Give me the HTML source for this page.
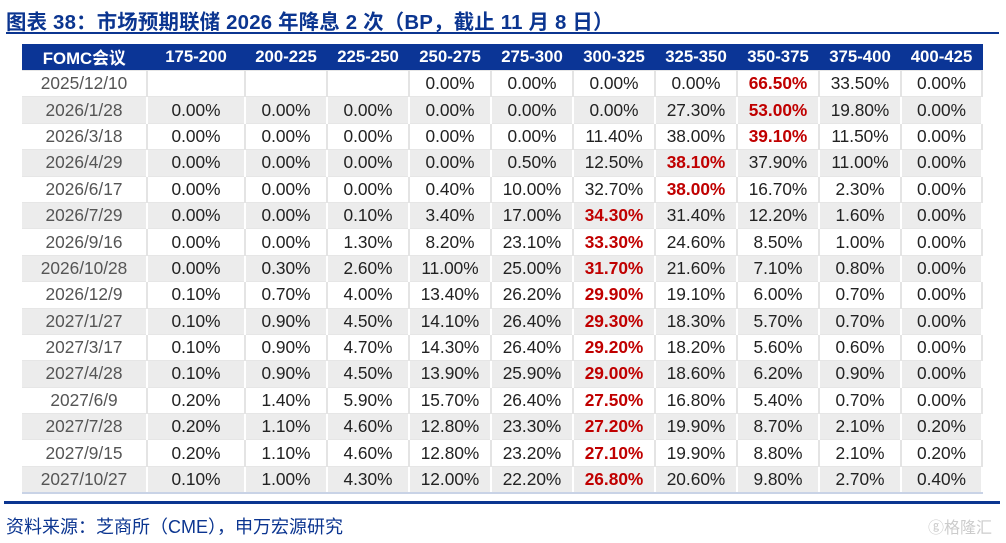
<!DOCTYPE html>
<html><head><meta charset="utf-8"><style>
body{margin:0;width:1006px;height:543px;background:#fff;position:relative;overflow:hidden;font-family:"Liberation Sans","Noto Sans CJK SC",sans-serif}
#title{position:absolute;left:6px;top:5px;font-size:20.4px;font-weight:bold;color:#0b3590;white-space:nowrap;letter-spacing:0.2px}
#rule1{position:absolute;left:6px;top:32px;width:993px;height:2px;background:#0b3590}
table{position:absolute;left:22px;top:44px;border-collapse:collapse;table-layout:fixed;width:960px}
th{background:#0b3596;color:#fff;font-size:16.8px;font-weight:bold;height:26px;padding:0;border-right:1px solid #0b3596}
td{height:25.4px;padding:0;text-align:center;font-size:17.3px;color:#222;border-right:2px solid #e4e4e4;border-top:1px solid #e6e6e6}
tr:nth-child(even) td{background:#ececec;border-right:2px solid #fff}
td:first-child{color:#555}
td.r{color:#c00000;font-weight:bold}
tbody tr:last-child td{border-bottom:2px solid #c9d3e6}
#rule2{position:absolute;left:4px;top:501px;width:996px;height:3px;background:#0b3590}
#src{position:absolute;left:6px;top:513px;font-size:18px;color:#0b3590}
#wm{position:absolute;left:928px;top:514px;font-size:16px;color:#ccc}
</style></head><body>
<div id="title">图表 38：市场预期联储 2026 年降息 2 次（BP，截止 11 月 8 日）</div>
<div id="rule1"></div>
<table id="tbl">
<colgroup><col style="width:125px"><col style="width:98px"><col style="width:82px"><col style="width:82px"><col style="width:82px"><col style="width:82px"><col style="width:82px"><col style="width:82px"><col style="width:82px"><col style="width:82px"><col style="width:81px"></colgroup>
<thead><tr id="hdr"></tr></thead>
<tbody id="body"></tbody>
</table>
<div id="rule2"></div>
<div id="src">资料来源：芝商所（CME），申万宏源研究</div>
<div id="wm">ⓖ格隆汇</div>
<script>
const headers=["FOMC会议","175-200","200-225","225-250","250-275","275-300","300-325","325-350","350-375","375-400","400-425"];
const dates=["2025/12/10","2026/1/28","2026/3/18","2026/4/29","2026/6/17","2026/7/29","2026/9/16","2026/10/28","2026/12/9","2027/1/27","2027/3/17","2027/4/28","2027/6/9","2027/7/28","2027/9/15","2027/10/27"];
const values=[
[null,null,null,0,0,0,0,66.5,33.5,0],
[0,0,0,0,0,0,27.3,53.0,19.8,0],
[0,0,0,0,0,11.4,38.0,39.1,11.5,0],
[0,0,0,0,0.5,12.5,38.1,37.9,11.0,0],
[0,0,0,0.4,10.0,32.7,38.0,16.7,2.3,0],
[0,0,0.1,3.4,17.0,34.3,31.4,12.2,1.6,0],
[0,0,1.3,8.2,23.1,33.3,24.6,8.5,1.0,0],
[0,0.3,2.6,11.0,25.0,31.7,21.6,7.1,0.8,0],
[0.1,0.7,4.0,13.4,26.2,29.9,19.1,6.0,0.7,0],
[0.1,0.9,4.5,14.1,26.4,29.3,18.3,5.7,0.7,0],
[0.1,0.9,4.7,14.3,26.4,29.2,18.2,5.6,0.6,0],
[0.1,0.9,4.5,13.9,25.9,29.0,18.6,6.2,0.9,0],
[0.2,1.4,5.9,15.7,26.4,27.5,16.8,5.4,0.7,0],
[0.2,1.1,4.6,12.8,23.3,27.2,19.9,8.7,2.1,0.2],
[0.2,1.1,4.6,12.8,23.2,27.1,19.9,8.8,2.1,0.2],
[0.1,1.0,4.3,12.0,22.2,26.8,20.6,9.8,2.7,0.4]];
const hdr=document.getElementById('hdr');
headers.forEach(h=>{const th=document.createElement('th');th.textContent=h;


hdr.appendChild(th);});
const body=document.getElementById('body');
dates.forEach((d,i)=>{const tr=document.createElement('tr');


const td0=document.createElement('td');td0.textContent=d;


tr.appendChild(td0);
const row=values[i];let mx=-1;row.forEach(v=>{if(v!==null&&v>mx)mx=v;});
row.forEach(v=>{const td=document.createElement('td');


if(v!==null){td.textContent=v.toFixed(2)+'%';if(v===mx)td.className='r';}
tr.appendChild(td);});
body.appendChild(tr);});
</script>
</body></html>
